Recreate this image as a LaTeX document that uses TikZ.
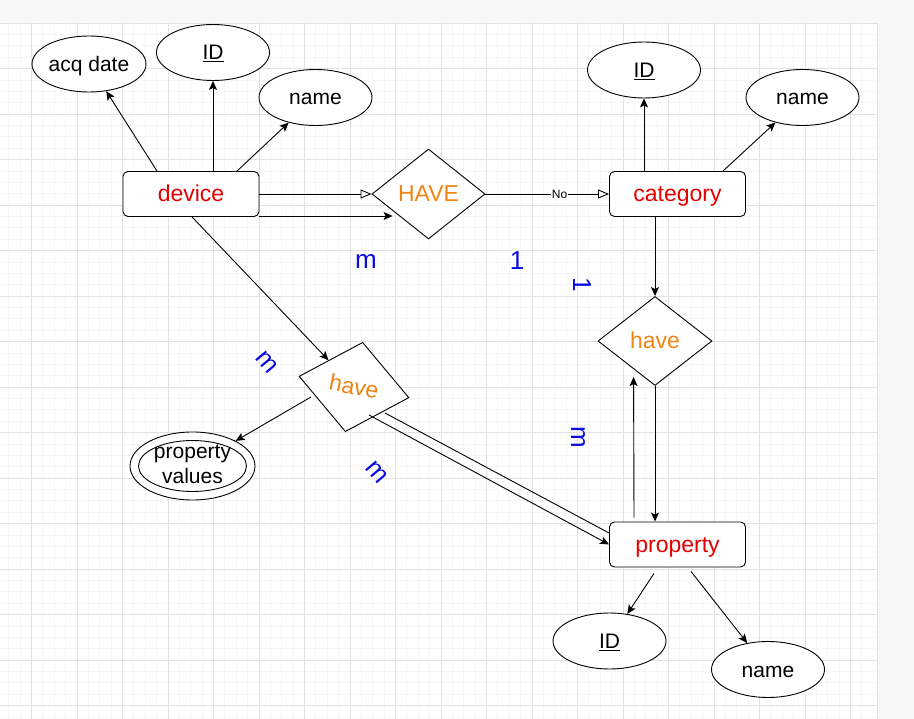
\documentclass[tikz,border=0pt]{standalone}
\usepackage{fontspec}
\setmainfont{Liberation Sans}
\usetikzlibrary{shapes.geometric,arrows.meta}
\definecolor{entred}{RGB}{230,0,0}
\definecolor{relorange}{RGB}{240,132,20}
\definecolor{cardblue}{RGB}{10,10,225}
\definecolor{gridmajor}{RGB}{226,226,226}
\definecolor{gridminor}{RGB}{246,246,246}
\definecolor{pagegray}{RGB}{247,247,247}

\begin{document}
\begin{tikzpicture}[x=1pt,y=-1pt,line width=0.9pt,
  entity/.style={draw, rounded corners=5pt, minimum width=136pt, minimum height=45pt,
    fill=white, text=entred, font=\fontsize{23}{27}\selectfont, text height=16pt, text depth=1pt},
  attrib/.style={draw, ellipse, minimum width=113pt, minimum height=56pt, inner sep=0pt,
    fill=white, font=\fontsize{21}{25}\selectfont, text height=15pt, text depth=0pt},
  relship/.style={draw, diamond, minimum width=113pt, minimum height=90pt, inner sep=0pt,
    fill=white, text=relorange, font=\fontsize{23}{27}\selectfont, text height=16pt, text depth=1pt},
  card/.style={text=cardblue, font=\fontsize{26}{30}\selectfont},
  fillarrow/.style={-{Stealth[length=9pt,width=8pt,inset=2pt]}},
  openarrow/.style={-{Triangle[open,length=11pt,width=9pt]}}]
\useasboundingbox (0,0) rectangle (914,719);

% --- page and grid ---
\fill[pagegray] (0,0) rectangle (914,719);
\fill[white] (0,23) rectangle (877,719);
\begin{scope}
\clip (0,23) rectangle (877,719);
\foreach \i in {0,...,79} \draw[gridminor, line width=0.6pt] ({-14.2+11.375*\i},23) -- ({-14.2+11.375*\i},719);
\foreach \j in {0,...,61} \draw[gridminor, line width=0.6pt] (0,{23+11.375*\j}) -- (877,{23+11.375*\j});
\foreach \i in {0,...,20} \draw[gridmajor, line width=0.6pt] ({-14.2+45.5*\i},23) -- ({-14.2+45.5*\i},719);
\foreach \j in {0,...,15} \draw[gridmajor, line width=0.6pt] (0,{23+45.5*\j}) -- (877,{23+45.5*\j});
\end{scope}
\draw[gridmajor, line width=0.6pt] (877,23) -- (877,719);

% --- entities ---
\node[entity] (dev) at (191,194) {device};
\node[entity] (cat) at (677.5,194) {category};
\node[entity] (prop) at (677.5,544.5) {property};

% --- attributes ---
\node[attrib, minimum width=114pt] (devdate) at (89,64) {acq date};
\node[attrib] (devid) at (213,52.5) {\underline{ID}};
\node[attrib] (devname) at (315.5,97.5) {name};
\node[attrib] (catid) at (644,70) {\underline{ID}};
\node[attrib] (catname) at (802.5,97.5) {name};
\node[attrib] (propid) at (609.5,641) {\underline{ID}};
\node[attrib] (propname) at (768,669.5) {name};

% double ellipse
\node[attrib, minimum width=125pt, minimum height=68pt] (pvals) at (192.5,466) {};
\draw (pvals.center) ellipse [x radius=54pt, y radius=25.5pt];
\node[align=center, font=\fontsize{21}{25}\selectfont] (pvalslab) at (192.5,464) {property\\values};

% --- relationships ---
\node[relship] (HAVE) at (428.5,194) {HAVE};
\node[relship, minimum width=114pt, minimum height=89pt] (catprop) at (655,341) {have};
\node[relship, minimum width=112pt, minimum height=91pt, rotate=-11] (devprop) at (354,387) {have};

% --- connectors ---
\draw[fillarrow] ([xshift=-34pt]dev.north) -- (devdate);
\draw[fillarrow] ([xshift=22pt]dev.north) -- (devid.south);
\draw[fillarrow] ([xshift=46pt]dev.north) -- (devname);

\draw[openarrow] (dev.east) -- (HAVE.west);
\draw[fillarrow] ([yshift=-22pt]dev.east) -- ([xshift=21pt,yshift=-22pt]HAVE.west);
\draw[openarrow] (HAVE.east) -- node[pos=0.6, fill=white, inner sep=0.5pt, font=\fontsize{12}{14}\selectfont] (nolab) {No} (cat.west);

\draw[fillarrow] ([xshift=-33.5pt]cat.north) -- (catid.south);
\draw[fillarrow] ([xshift=45.5pt]cat.north) -- (catname);
\draw[fillarrow] ([xshift=-22.5pt]cat.south) -- (catprop.north);
\draw[fillarrow] (catprop.south) -- ([xshift=-22.5pt]prop.north);
\draw[fillarrow] ([xshift=-43.5pt,yshift=4pt]prop.north) -- ([xshift=36pt,yshift=-36pt]catprop.west);

\draw[fillarrow] ([xshift=-23.5pt,yshift=-6pt]prop.south) -- (propid);
\draw[fillarrow] ([xshift=13.5pt,yshift=-4pt]prop.south) -- (propname);

\draw[fillarrow] ([xshift=1pt]dev.south) -- (devprop);
\draw[fillarrow] ([xshift=-43pt,yshift=-10pt]devprop.center) -- (pvals);
\draw ([xshift=31pt,yshift=-26pt]devprop.center) -- ([yshift=11.5pt]prop.west);
\draw[fillarrow] ([xshift=15pt,yshift=-28pt]devprop.center) -- (prop.west);

% --- cardinalities ---
\node[card] (mdev) at (366,262) {m};
\node[card] (onecat) at (517,261) {1};
\node[card, rotate=-90] (onecatp) at (582,285) {1};
\node[card, rotate=-50] (mdevp) at (267,362) {m};
\node[card, rotate=-50] (mpropd) at (377,472) {m};
\node[card, rotate=-90] (mpropc) at (578,437) {m};
\end{tikzpicture}
\end{document}
